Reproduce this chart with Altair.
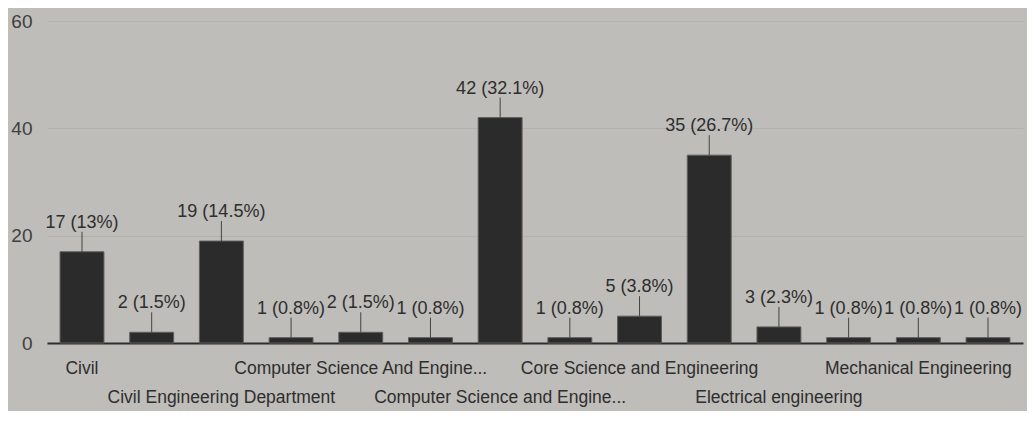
import altair as alt
import pandas as pd

categories = [
    "Civil",
    "Civil Engineering",
    "Civil Engineering Department",
    "Computer Science",
    "Computer Science And Engineering",
    "Computer Science Engineering",
    "Computer Science and Engineering",
    "Computer science and engineering",
    "Core Science and Engineering",
    "Electrical and Electronics Engineering",
    "Electrical engineering",
    "Mechanical",
    "Mechanical Engineering",
    "Mechanical engineering",
]
counts = [17, 2, 19, 1, 2, 1, 42, 1, 5, 35, 3, 1, 1, 1]
percents = ["13", "1.5", "14.5", "0.8", "1.5", "0.8", "32.1", "0.8", "3.8", "26.7", "2.3", "0.8", "0.8", "0.8"]
tick_labels = [
    "Civil", "", "Civil Engineering Department", "",
    "Computer Science And Engine...", "", "Computer Science and Engine...", "",
    "Core Science and Engineering", "", "Electrical engineering", "",
    "Mechanical Engineering", "",
]
y_ticks = [0, 20, 40, 60]

df = pd.DataFrame({
    "category": categories,
    "count": counts,
    "label": [f"{c} ({p}%)" for c, p in zip(counts, percents)],
    "tick": tick_labels,
    "row": [(i // 2) % 2 for i in range(len(categories))],
})

W, H = 976, 322
FONT = "Liberation Sans, Arial, sans-serif"

x = alt.X(
    "category:N",
    sort=None,
    scale=alt.Scale(paddingInner=0.37, paddingOuter=0.187),
    axis=alt.Axis(labels=False, ticks=False, title=None,
                  domainColor="#2e2e2e", domainWidth=2),
)
y = alt.Y(
    "count:Q",
    scale=alt.Scale(domain=[0, 60]),
    axis=alt.Axis(values=y_ticks, title=None, domain=False, ticks=False,
                  labelPadding=15, labelFontSize=19, labelColor="#404040",
                  labelFont=FONT, gridColor="#b3b2ae", gridWidth=1),
)

base = alt.Chart(df)

bars = base.mark_bar(color="#2b2b2b", stroke="#5e5e5e", strokeWidth=1).encode(x=x, y=y)

leaders = base.mark_rule(color="#444444", strokeWidth=1, y2Offset=-20).encode(
    x=alt.X("category:N", sort=None),
    y=alt.Y("count:Q"),
    y2=alt.Y2("count:Q"),
)

values = base.mark_text(baseline="bottom", dy=-20, fontSize=18, color="#2e2e2e", font=FONT).encode(
    x=alt.X("category:N", sort=None),
    y=alt.Y("count:Q"),
    text="label:N",
)

ticks_row1 = base.transform_filter("datum.row == 0").mark_text(
    baseline="middle", fontSize=17.5, color="#2e2e2e", font=FONT
).encode(x=alt.X("category:N", sort=None), y=alt.value(H + 26), text="tick:N")

ticks_row2 = base.transform_filter("datum.row == 1").mark_text(
    baseline="middle", fontSize=17.5, color="#2e2e2e", font=FONT
).encode(x=alt.X("category:N", sort=None), y=alt.value(H + 55), text="tick:N")

chart = (
    alt.layer(bars, leaders, values, ticks_row1, ticks_row2)
    .properties(
        width=W,
        height=H,
        autosize=alt.AutoSizeParams(type="none"),
        padding={"left": 39, "top": 13, "right": 4, "bottom": 68},
        background="#bebdb9",
    )
    .configure_view(stroke=None)
)

chart.save("out.html", embed_options={"renderer": "svg", "actions": False})
